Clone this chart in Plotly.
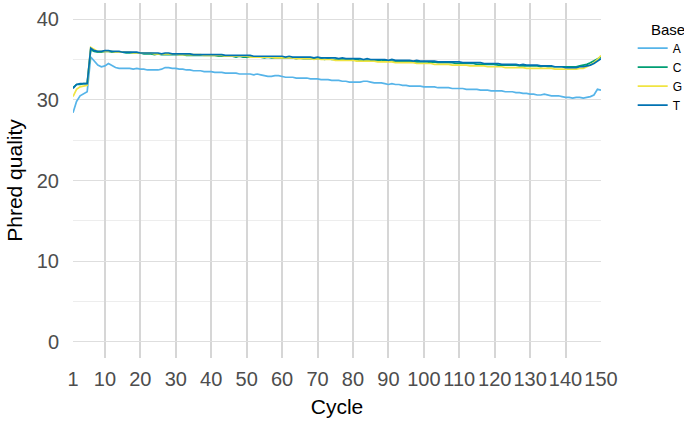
import plotly.graph_objects as go

cycles = list(range(1, 151))

# mean Phred quality per cycle
qual_A = [
    28.4, 29.8, 30.5, 30.8, 31.0, 35.3, 34.8, 34.3, 34.1, 34.2,
    34.5, 34.2, 34.0, 33.9, 33.9, 33.9, 33.9, 33.8, 33.9, 33.8,
    33.8, 33.7, 33.7, 33.7, 33.7, 33.8, 34.0, 34.0, 33.9, 33.9,
    33.8, 33.8, 33.7, 33.7, 33.6, 33.6, 33.6, 33.5, 33.5, 33.5,
    33.4, 33.4, 33.4, 33.3, 33.3, 33.3, 33.3, 33.2, 33.2, 33.2,
    33.2, 33.1, 33.2, 33.1, 33.0, 32.9, 32.9, 33.0, 33.0, 32.9,
    32.8, 32.8, 32.8, 32.7, 32.7, 32.7, 32.7, 32.6, 32.6, 32.6,
    32.5, 32.5, 32.5, 32.4, 32.4, 32.4, 32.3, 32.3, 32.2, 32.2,
    32.2, 32.2, 32.3, 32.3, 32.2, 32.1, 32.1, 32.1, 32.0, 31.9,
    32.0, 31.9, 31.9, 31.8, 31.8, 31.7, 31.7, 31.7, 31.7, 31.6,
    31.6, 31.6, 31.6, 31.5, 31.5, 31.5, 31.5, 31.4, 31.4, 31.4,
    31.4, 31.3, 31.3, 31.3, 31.3, 31.2, 31.2, 31.2, 31.1, 31.1,
    31.1, 31.1, 31.0, 31.0, 31.0, 30.9, 30.9, 30.8, 30.8, 30.7,
    30.7, 30.6, 30.6, 30.7, 30.6, 30.5, 30.5, 30.5, 30.4, 30.3,
    30.3, 30.2, 30.3, 30.3, 30.2, 30.3, 30.4, 30.6, 31.3, 31.2,
]
qual_C = [
    31.5, 31.9, 31.9, 32.0, 32.0, 36.2, 36.0, 35.9, 35.9, 36.0,
    36.0, 35.9, 35.9, 35.9, 35.9, 35.8, 35.8, 35.8, 35.8, 35.8,
    35.7, 35.7, 35.7, 35.6, 35.7, 35.6, 35.6, 35.6, 35.6, 35.6,
    35.6, 35.6, 35.5, 35.5, 35.5, 35.5, 35.5, 35.5, 35.5, 35.5,
    35.5, 35.4, 35.4, 35.4, 35.4, 35.4, 35.3, 35.4, 35.3, 35.3,
    35.3, 35.3, 35.3, 35.3, 35.2, 35.3, 35.2, 35.2, 35.2, 35.2,
    35.2, 35.2, 35.2, 35.1, 35.2, 35.1, 35.1, 35.1, 35.1, 35.1,
    35.1, 35.0, 35.1, 35.0, 35.0, 35.0, 35.0, 35.0, 35.0, 34.9,
    35.0, 34.9, 34.9, 34.9, 34.9, 34.9, 34.9, 34.8, 34.9, 34.8,
    34.8, 34.8, 34.8, 34.8, 34.8, 34.7, 34.7, 34.7, 34.7, 34.7,
    34.7, 34.6, 34.7, 34.6, 34.6, 34.6, 34.6, 34.6, 34.5, 34.5,
    34.5, 34.5, 34.5, 34.5, 34.4, 34.4, 34.4, 34.4, 34.4, 34.4,
    34.3, 34.3, 34.3, 34.3, 34.3, 34.3, 34.2, 34.2, 34.2, 34.2,
    34.2, 34.2, 34.1, 34.2, 34.1, 34.1, 34.1, 34.1, 34.1, 34.1,
    34.1, 34.1, 34.1, 34.2, 34.3, 34.4, 34.6, 34.8, 35.0, 35.3,
]
qual_G = [
    30.4, 31.3, 31.6, 31.7, 31.8, 36.5, 36.2, 36.0, 36.0, 36.0,
    36.0, 36.0, 35.9, 35.9, 35.9, 35.9, 35.9, 35.8, 35.8, 35.8,
    35.8, 35.8, 35.8, 35.7, 35.7, 35.7, 35.7, 35.7, 35.7, 35.7,
    35.6, 35.6, 35.6, 35.6, 35.6, 35.6, 35.6, 35.5, 35.5, 35.5,
    35.5, 35.5, 35.5, 35.4, 35.4, 35.4, 35.4, 35.4, 35.4, 35.4,
    35.3, 35.3, 35.3, 35.3, 35.3, 35.3, 35.3, 35.2, 35.2, 35.2,
    35.2, 35.2, 35.2, 35.1, 35.1, 35.1, 35.1, 35.1, 35.0, 35.1,
    35.0, 35.0, 35.0, 35.0, 34.9, 34.9, 34.9, 34.9, 34.9, 34.9,
    34.8, 34.8, 34.8, 34.8, 34.8, 34.8, 34.7, 34.7, 34.7, 34.7,
    34.7, 34.6, 34.6, 34.6, 34.6, 34.6, 34.6, 34.5, 34.5, 34.5,
    34.5, 34.5, 34.4, 34.4, 34.4, 34.4, 34.4, 34.3, 34.3, 34.3,
    34.3, 34.3, 34.2, 34.2, 34.2, 34.2, 34.2, 34.1, 34.1, 34.1,
    34.1, 34.1, 34.0, 34.0, 34.0, 34.0, 34.0, 34.0, 33.9, 33.9,
    33.9, 33.9, 33.9, 33.9, 33.9, 33.9, 33.8, 33.8, 33.8, 33.8,
    33.8, 33.8, 33.8, 33.9, 33.9, 34.1, 34.3, 34.6, 35.0, 35.5,
]
qual_T = [
    31.4, 31.9, 32.0, 32.0, 32.0, 36.4, 36.1, 36.0, 36.0, 36.1,
    36.1, 36.0, 36.0, 36.0, 35.9, 35.9, 35.9, 35.9, 35.9, 35.8,
    35.8, 35.8, 35.8, 35.8, 35.8, 35.7, 35.8, 35.8, 35.7, 35.7,
    35.7, 35.7, 35.7, 35.7, 35.6, 35.6, 35.6, 35.6, 35.6, 35.6,
    35.6, 35.6, 35.6, 35.5, 35.5, 35.5, 35.5, 35.5, 35.5, 35.5,
    35.5, 35.4, 35.4, 35.4, 35.4, 35.4, 35.4, 35.4, 35.4, 35.4,
    35.3, 35.4, 35.3, 35.3, 35.3, 35.3, 35.3, 35.3, 35.2, 35.3,
    35.2, 35.2, 35.2, 35.2, 35.2, 35.1, 35.2, 35.1, 35.1, 35.1,
    35.1, 35.1, 35.0, 35.1, 35.0, 35.0, 35.0, 35.0, 35.0, 34.9,
    35.0, 34.9, 34.9, 34.9, 34.9, 34.9, 34.8, 34.9, 34.8, 34.8,
    34.8, 34.8, 34.8, 34.7, 34.7, 34.7, 34.7, 34.7, 34.7, 34.7,
    34.6, 34.6, 34.6, 34.6, 34.6, 34.6, 34.5, 34.5, 34.5, 34.5,
    34.5, 34.4, 34.4, 34.4, 34.4, 34.4, 34.3, 34.4, 34.3, 34.3,
    34.3, 34.3, 34.2, 34.2, 34.2, 34.2, 34.1, 34.1, 34.1, 34.0,
    34.0, 34.0, 34.0, 34.1, 34.1, 34.2, 34.3, 34.5, 34.8, 35.1,
]

bases = ["A", "C", "G", "T"]
series = [qual_A, qual_C, qual_G, qual_T]
colors = ["#56B4E9", "#009E73", "#F0E442", "#0072B2"]

x_ticks = [1, 10, 20, 30, 40, 50, 60, 70, 80, 90, 100, 110, 120, 130, 140, 150]
y_ticks = [0, 10, 20, 30, 40]

fig = go.Figure()
for base, vals, col in zip(bases, series, colors):
    fig.add_trace(go.Scatter(
        x=cycles, y=vals, mode="lines", name=base,
        line=dict(color=col, width=1.7),
    ))

fig.update_layout(
    width=684, height=424,
    margin=dict(l=73, r=83, t=3, b=66, autoexpand=False),
    paper_bgcolor="white", plot_bgcolor="white",
    font=dict(family="Liberation Sans, Arial, sans-serif", color="black"),
    legend=dict(
        font=dict(size=12),
        x=1.06, xanchor="left", y=0.914, yanchor="top",
        itemwidth=30, tracegroupgap=0,
    ),
    xaxis=dict(
        range=[1, 150], tickmode="array", tickvals=x_ticks,
        ticktext=[str(t) for t in x_ticks], tickangle=0,
        tickfont=dict(size=20, color="#4D4D4D"),
        ticks="", ticklabelstandoff=7, automargin=False,
        showgrid=True, gridcolor="#D6D6D6", gridwidth=1.6,
        zeroline=False, showline=False,
        title=dict(text="Cycle", font=dict(size=21), standoff=10),
    ),
    yaxis=dict(
        range=[-2, 42], tickmode="array", tickvals=y_ticks,
        tickfont=dict(size=20, color="#4D4D4D"),
        ticks="", ticklabelstandoff=13, automargin=False,
        showgrid=True, gridcolor="#DEDEDE", gridwidth=1.4,
        minor=dict(tickvals=[5, 15, 25, 35], showgrid=True,
                   gridcolor="#EDEDED", gridwidth=1),
        zeroline=False, showline=False,
        title=dict(text="Phred quality", font=dict(size=21), standoff=8),
    ),
)

# legend title placed on its own so it can sit right of the key lines
fig.add_annotation(
    text="Base", xref="paper", yref="paper", x=1.09, y=0.925,
    xanchor="left", yanchor="middle", showarrow=False,
    font=dict(size=15, color="black"),
)

# the page body has a default 8px margin; drop it so the figure sits at 0,0
fig.write_html("out.html", config={"displayModeBar": False},
               post_script="document.body.style.margin = '0';")
